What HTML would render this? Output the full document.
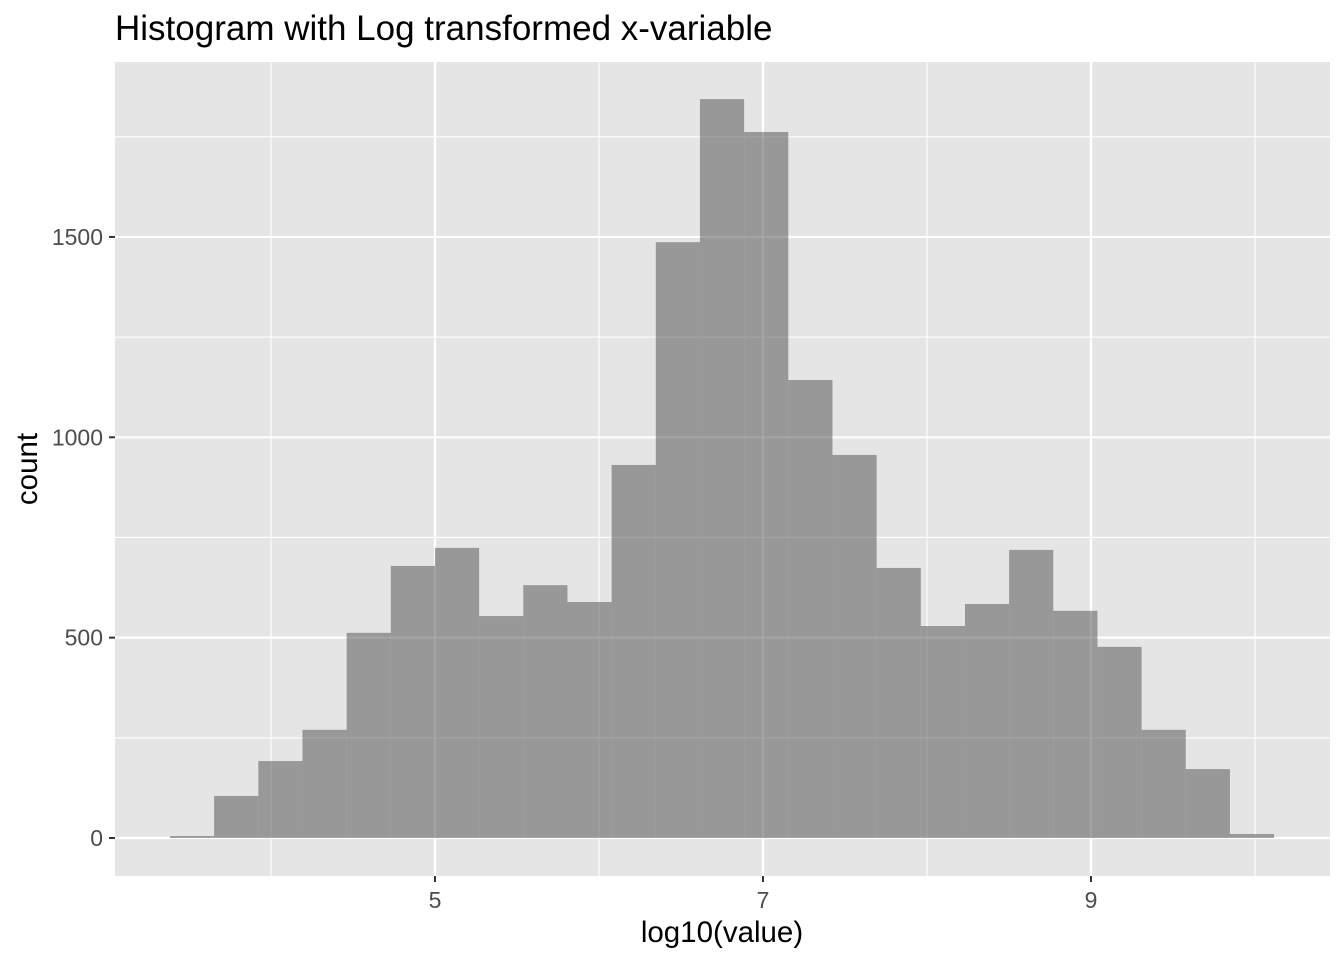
<!DOCTYPE html>
<html><head><meta charset="utf-8"><style>
body{margin:0;background:#fff;}
svg text{font-family:"Liberation Sans",Arial,sans-serif;}
</style></head><body>
<svg id="chart" width="1344" height="960" xmlns="http://www.w3.org/2000/svg">
<rect width="1344" height="960" fill="#fff"/>
<text x="115" y="40" font-size="35" fill="#000">Histogram with Log transformed x-variable</text>
<rect x="115" y="62" width="1215" height="814" fill="#e5e5e5"/>
<g id="grid"></g>
<g id="bars"></g>
<g id="axes"></g>
<text x="722" y="942" font-size="29.5" text-anchor="middle" fill="#000">log10(value)</text>
<text transform="translate(37,469) rotate(-90)" font-size="29.5" text-anchor="middle" fill="#000">count</text>
</svg>
<script>
const binStart = 3.384;
const binWidth = 0.2693;
const counts = [5,105,192,270,512,679,724,554,631,589,931,1487,1844,1762,1143,956,674,529,584,719,567,477,270,172,10];
const xTicks = [5,7,9];
const xMinor = [4,6,8,10];
const yTicks = [0,500,1000,1500];
const yMinor = [250,750,1250,1750];

const NS = "http://www.w3.org/2000/svg";
const X = v => 435 + (v - 5) * 164;
const Y = c => 838 - c * 0.4007;
const L = 115, R = 1330, T = 62, B = 876;
function mk(tag, attrs, parent){const e=document.createElementNS(NS,tag);for(const k in attrs)e.setAttribute(k,attrs[k]);parent.appendChild(e);return e;}
const grid=document.getElementById('grid'),bars=document.getElementById('bars'),axes=document.getElementById('axes');
xMinor.forEach(v=>{const e=mk('line',{x1:X(v),x2:X(v),y1:T,y2:B,stroke:'#fff','stroke-width':1.1},grid);

});
yMinor.forEach(v=>{const e=mk('line',{x1:L,x2:R,y1:Y(v),y2:Y(v),stroke:'#fff','stroke-width':1.1},grid);

});
xTicks.forEach(v=>{const e=mk('line',{x1:X(v),x2:X(v),y1:T,y2:B,stroke:'#fff','stroke-width':2.2},grid);


const t=mk('line',{x1:X(v),x2:X(v),y1:B,y2:B+6,stroke:'#333','stroke-width':2},axes);


const l=mk('text',{x:X(v),y:B+32,'font-size':23,'text-anchor':'middle',fill:'#4d4d4d'},axes);l.textContent=v;

});
yTicks.forEach(v=>{const e=mk('line',{x1:L,x2:R,y1:Y(v),y2:Y(v),stroke:'#fff','stroke-width':2.2},grid);


const t=mk('line',{x1:L-6,x2:L,y1:Y(v),y2:Y(v),stroke:'#333','stroke-width':2},axes);


const l=mk('text',{x:L-12,y:Y(v)+8,'font-size':23,'text-anchor':'end',fill:'#4d4d4d'},axes);l.textContent=v;

});
counts.forEach((c,i)=>{const x0=X(binStart+i*binWidth),x1=X(binStart+(i+1)*binWidth);
const r=mk('rect',{x:x0,y:Y(c),width:x1-x0,height:Y(0)-Y(c),fill:'#595959','fill-opacity':0.55},bars);

});
</script>
</body></html>
